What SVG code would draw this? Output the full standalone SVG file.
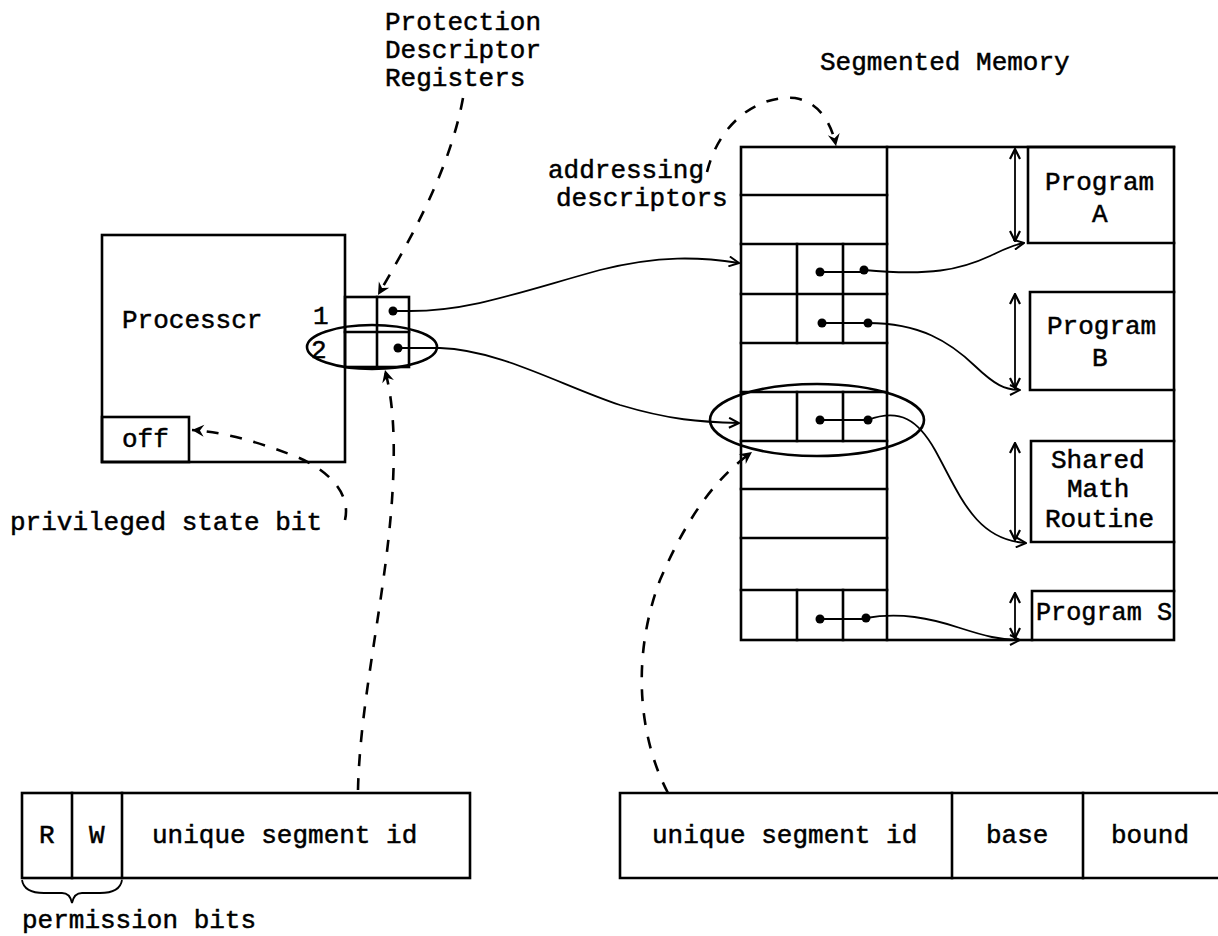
<svg xmlns="http://www.w3.org/2000/svg" width="1218" height="936" viewBox="0 0 1218 936">
<style>
.b{fill:none;stroke:#000;stroke-width:2.6;stroke-linecap:square}
.c{fill:none;stroke:#000;stroke-width:1.8}
.d{fill:none;stroke:#000;stroke-width:2.6;stroke-dasharray:12 12}
.t{font-family:"Liberation Mono","DejaVu Sans Mono",monospace;font-size:26px;fill:#000;stroke:#000;stroke-width:0.5}
.dot{fill:#000}
</style>
<defs>
<marker id="ao" viewBox="0 0 12 12" refX="11" refY="6" markerWidth="12" markerHeight="12" markerUnits="userSpaceOnUse" orient="auto">
<path d="M1,1 L11,6 L1,11" fill="none" stroke="#000" stroke-width="2"/>
</marker>
<marker id="af" viewBox="0 0 14 14" refX="13" refY="7" markerWidth="14" markerHeight="14" markerUnits="userSpaceOnUse" orient="auto">
<path d="M1,1 L13,7 L1,13 L5,7 Z" fill="#000"/>
</marker>
<marker id="ad" viewBox="0 0 12 12" refX="11" refY="6" markerWidth="12" markerHeight="12" markerUnits="userSpaceOnUse" orient="auto-start-reverse">
<path d="M1,1 L11,6 L1,11" fill="none" stroke="#000" stroke-width="2.2"/>
</marker>
</defs>
<rect width="1218" height="936" fill="#fff"/>

<g id="labels">
<text class="t" x="385" y="30">Protection</text>
<text class="t" x="385" y="58">Descriptor</text>
<text class="t" x="385" y="86">Registers</text>
<text class="t" x="820" y="70">Segmented Memory</text>
<text class="t" x="548" y="178">addressing</text>
<text class="t" x="556" y="206">descriptors</text>
<text class="t" x="10" y="530">privileged state bit</text>
</g>

<g id="processor">
<rect class="b" x="102" y="235" width="243" height="227"/>
<text class="t" x="122" y="328">Processcr</text>
<rect class="b" x="102" y="417" width="87" height="45"/>
<text class="t" x="122" y="447">off</text>
</g>

<g id="registers">
<rect class="b" x="345" y="297" width="64" height="70"/>
<line class="b" x1="345" y1="332" x2="409" y2="332"/>
<line class="b" x1="377" y1="297" x2="377" y2="367"/>
<text class="t" x="313" y="324">1</text>
<text class="t" x="311" y="358">2</text>
<circle class="dot" cx="393" cy="311" r="4.5"/>
<circle class="dot" cx="398" cy="348" r="4.5"/>
<ellipse class="b" cx="372" cy="347" rx="65" ry="22"/>
</g>

<g id="memory">
<rect class="b" x="741" y="147" width="433" height="493"/>
<line class="b" x1="887" y1="147" x2="887" y2="640"/>
<path class="b" d="M741,195H887M741,244H887M741,294H887M741,343H887M741,392H887M741,441H887M741,489H887M741,538H887M741,590H887"/>
<path class="b" d="M797,244V343M843,244V343M797,392V441M843,392V441M797,590V640M843,590V640"/>
<circle class="dot" cx="820" cy="272" r="4.5"/>
<circle class="dot" cx="864" cy="270" r="4.5"/>
<circle class="dot" cx="822" cy="323" r="4.5"/>
<circle class="dot" cx="868" cy="323" r="4.5"/>
<circle class="dot" cx="820" cy="420" r="4.5"/>
<circle class="dot" cx="868" cy="420" r="4.5"/>
<circle class="dot" cx="820" cy="619" r="4.5"/>
<circle class="dot" cx="866" cy="618" r="4.5"/>
<path class="c" d="M820,272H864M822,323H868M820,420H868M820,619H866"/>
<ellipse class="b" cx="817" cy="420" rx="107" ry="36"/>
</g>

<g id="programA">
<path class="b" d="M1174,147H1028V243H1174"/>
<text class="t" x="1045" y="190">Program</text>
<text class="t" x="1092" y="222">A</text>
</g>
<g id="programB">
<path class="b" d="M1174,292H1030V390H1174"/>
<text class="t" x="1047" y="334">Program</text>
<text class="t" x="1092" y="366">B</text>
</g>
<g id="sharedMath">
<path class="b" d="M1174,441H1031V542H1174"/>
<text class="t" x="1051" y="468">Shared</text>
<text class="t" x="1067" y="497">Math</text>
<text class="t" x="1045" y="527">Routine</text>
</g>
<g id="programS">
<path class="b" d="M1174,591H1032V640"/>
<text class="t" x="1036" y="620" textLength="136" lengthAdjust="spacingAndGlyphs">Program S</text>
</g>

<g id="permissionDescriptor">
<rect class="b" x="22" y="793" width="448" height="85"/>
<line class="b" x1="72" y1="793" x2="72" y2="878"/>
<line class="b" x1="122" y1="793" x2="122" y2="878"/>
<text class="t" x="39" y="843">R</text>
<text class="t" x="89" y="843">W</text>
<text class="t" x="152" y="843">unique segment id</text>
<path class="c" d="M22,880 Q24,893 44,893 L62,893 Q70,893 72,903 Q74,893 82,893 L100,893 Q120,893 122,880"/>
<text class="t" x="22" y="928">permission bits</text>
</g>

<g id="addressingDescriptor">
<path class="b" d="M1218,793H620V878H1218"/>
<line class="b" x1="952" y1="793" x2="952" y2="878"/>
<line class="b" x1="1083" y1="793" x2="1083" y2="878"/>
<text class="t" x="652" y="843">unique segment id</text>
<text class="t" x="986" y="843">base</text>
<text class="t" x="1111" y="843">bound</text>
</g>

<g id="connectors">
<path class="c" marker-end="url(#ao)" d="M393,311 L410,311 C470,311 520,292 600,270 C660,255 700,257 739,263"/>
<path class="c" marker-end="url(#ao)" d="M398,348 L440,348 C500,350 560,385 620,405 C670,420 700,422 739,423"/>
<path class="c" marker-end="url(#ao)" d="M864,270 C930,276 960,270 990,256 C1005,249 1012,245 1024,243"/>
<path class="c" marker-end="url(#ao)" d="M868,323 C920,323 950,342 975,366 C995,385 1005,390 1020,390"/>
<path class="c" marker-end="url(#ao)" d="M868,420 C900,408 918,420 935,450 C960,495 975,540 1026,543"/>
<path class="c" marker-end="url(#ao)" d="M866,618 C900,612 930,618 960,628 C985,636 1000,640 1020,640"/>
<line class="c" stroke-width="2.4" marker-start="url(#ad)" marker-end="url(#ad)" x1="1015" y1="149" x2="1015" y2="241"/>
<line class="c" stroke-width="2.4" marker-start="url(#ad)" marker-end="url(#ad)" x1="1015" y1="294" x2="1015" y2="388"/>
<line class="c" stroke-width="2.4" marker-start="url(#ad)" marker-end="url(#ad)" x1="1015" y1="443" x2="1015" y2="540"/>
<line class="c" stroke-width="2.4" marker-start="url(#ad)" marker-end="url(#ad)" x1="1015" y1="593" x2="1015" y2="638"/>
<path class="d" marker-end="url(#af)" d="M463,98 C450,170 410,240 378,295"/>
<path class="d" marker-end="url(#af)" d="M358,790 C360,700 385,600 392,500 C396,440 393,400 385,370"/>
<path class="d" marker-end="url(#af)" d="M345,520 C352,490 322,466 292,455 C252,440 222,432 192,430"/>
<path class="d" marker-end="url(#af)" d="M707,172 C720,120 760,95 795,98 C820,102 832,125 836,146"/>
<path class="d" marker-end="url(#af)" d="M668,793 C640,740 630,660 660,580 C690,510 720,475 752,452"/>
</g>
</svg>
